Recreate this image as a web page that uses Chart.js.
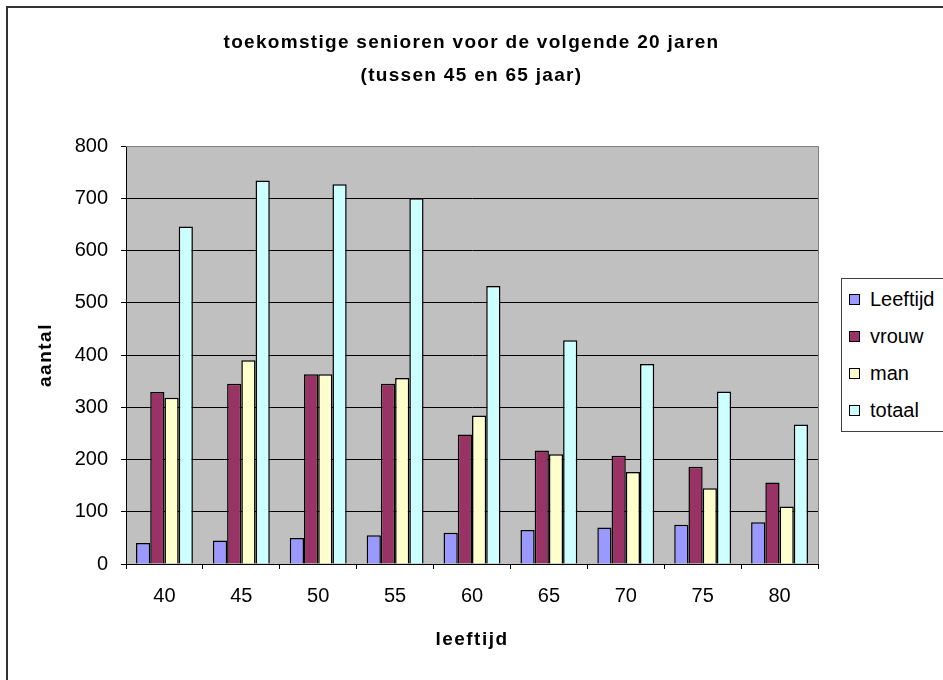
<!DOCTYPE html>
<html>
<head>
  <title>toekomstige senioren</title>
  <script src="https://cdn.jsdelivr.net/npm/chart.js"></script>
  <style>
    body { margin: 0; overflow: hidden; background: #fff; font-family: "Liberation Sans", Arial, sans-serif; }
    #wrap { position: relative; width: 943px; height: 680px; }
    #legend { position: absolute; left: 841px; top: 278px; width: 120px; height: 152px; border: 1px solid #404040; background: #fff; }
    .item { position: absolute; left: 7px; height: 24px; line-height: 24px; font-size: 20px; color: #000; white-space: nowrap; }
    .item span { display: inline-block; width: 9px; height: 9px; border: 1px solid #000; margin-right: 10px; vertical-align: middle; position: relative; top: -1px; }
  </style>
</head>
<body>
<div id="wrap">
  <canvas id="chart" width="943" height="680"></canvas>
  <div id="legend"></div>
</div>

<script>
const ages = ['40', '45', '50', '55', '60', '65', '70', '75', '80'];
const leeftijd = [40, 45, 50, 55, 60, 65, 70, 75, 80];
const vrouw = [329, 345, 363, 345, 248, 217, 207, 186, 156];
const man = [318, 390, 363, 356, 284, 210, 176, 145, 110];
const totaal = [646, 734, 727, 700, 532, 428, 383, 330, 267];

const seriesNames = ['Leeftijd', 'vrouw', 'man', 'totaal'];
const seriesColors = ['#9999FF', '#993366', '#FFFFCC', '#CCFFFF'];
const seriesData = [leeftijd, vrouw, man, totaal];

const boldFont = { family: '"Liberation Sans", Arial, sans-serif', size: 19, weight: 'bold' };
const plainFont = { family: '"Liberation Sans", Arial, sans-serif', size: 20 };

// grey plot area, frame lines and the outer chart border
const frame = {
  id: 'frame',
  beforeDraw(chart) {
    const { ctx, chartArea: a } = chart;
    ctx.save();
    ctx.fillStyle = '#C0C0C0';
    ctx.fillRect(a.left, a.top, a.right - a.left, a.bottom - a.top);
    ctx.restore();
  },
  afterDraw(chart) {
    const { ctx, chartArea: a } = chart;
    ctx.save();
    ctx.strokeStyle = '#808080';
    ctx.lineWidth = 1;
    ctx.beginPath();
    ctx.moveTo(a.left, a.top + 0.5);
    ctx.lineTo(a.right + 0.5, a.top + 0.5);
    ctx.lineTo(a.right + 0.5, a.bottom);
    ctx.stroke();
    ctx.strokeStyle = '#333';
    ctx.lineWidth = 2;
    ctx.beginPath();
    ctx.moveTo(7, 680);
    ctx.lineTo(7, 7);
    ctx.lineTo(943, 7);
    ctx.stroke();
    ctx.restore();
  }
};

// the bold titles are drawn with a little extra letter spacing
const spaced = {
  id: 'spaced',
  afterLayout(chart) {
    const wrap = (obj, key, sp) => {
      if (!obj || !obj[key] || obj[key]._spaced) return;
      const orig = obj[key];
      const fn = function (...args) {
        const ctx = chart.ctx;
        const prev = ctx.letterSpacing;
        ctx.letterSpacing = sp;
        orig.apply(this, args);
        ctx.letterSpacing = prev;
      };
      fn._spaced = true;
      obj[key] = fn;
    };
    wrap(chart.titleBlock, 'draw', '1.3px');
    wrap(chart.scales.x, 'drawTitle', '1.5px');
    wrap(chart.scales.y, 'drawTitle', '1.5px');
  }
};

const ctx = document.getElementById('chart').getContext('2d');
new Chart(ctx, {
  type: 'bar',
  data: {
    labels: ages,
    datasets: seriesNames.map((name, i) => ({
      label: name,
      data: seriesData[i],
      backgroundColor: seriesColors[i],
      borderColor: '#000',
      borderWidth: 1.5,
      categoryPercentage: 0.74,
      barPercentage: 1
    }))
  },
  options: {
    responsive: false,
    animation: false,
    layout: { padding: 0 },
    plugins: {
      legend: { display: false },
      tooltip: { enabled: false },
      title: {
        display: true,
        text: ['toekomstige senioren voor de volgende 20 jaren', '(tussen 45 en 65 jaar)'],
        color: '#000',
        font: { ...boldFont, lineHeight: 33 / 19 },
        padding: { top: 26.5, bottom: 53.5 }
      }
    },
    scales: {
      x: {
        grid: { display: true, drawOnChartArea: false, tickLength: 5, color: '#000' },
        border: { color: '#000' },
        ticks: { color: '#000', font: plainFont, padding: 15 },
        title: { display: true, text: 'leeftijd', color: '#000', font: boldFont, padding: { top: 0, bottom: 28.6 } },
        afterFit(s) { s.height = 116; }
      },
      y: {
        min: 0,
        max: 800,
        ticks: { stepSize: 100, color: '#000', font: plainFont, padding: 13 },
        grid: { color: '#000', tickColor: '#000', tickLength: 5 },
        border: { color: '#000' },
        title: { display: true, text: 'aantal', color: '#000', font: boldFont, padding: { top: 34.6, bottom: 0 } },
        afterFit(s) { s.width = 126; }
      },
      r: {
        position: 'right',
        display: true,
        grid: { display: false },
        border: { display: false },
        ticks: { display: false },
        afterFit(s) { s.width = 125; }
      }
    }
  },
  plugins: [frame, spaced]
});

// legend box at the right
const legend = document.getElementById('legend');
seriesNames.forEach((name, i) => {
  const row = document.createElement('div');
  row.className = 'item';
  row.style.top = (8 + i * 37) + 'px';
  const box = document.createElement('span');
  box.style.background = seriesColors[i];
  row.appendChild(box);
  row.appendChild(document.createTextNode(name));
  legend.appendChild(row);
});
</script>
</body>
</html>
